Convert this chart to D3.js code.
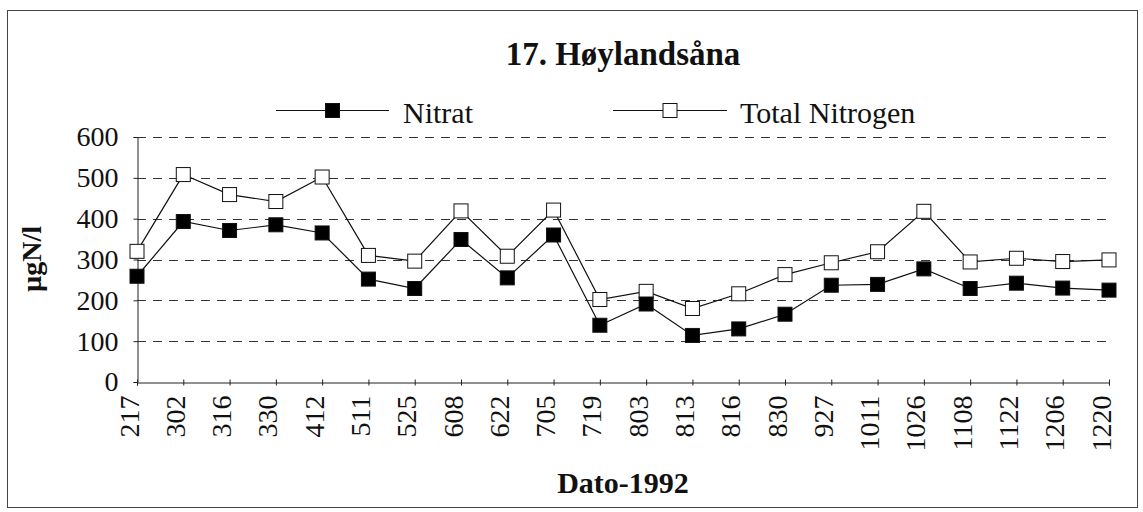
<!DOCTYPE html>
<html>
<head>
<meta charset="utf-8">
<script src="https://cdnjs.cloudflare.com/ajax/libs/d3/7.8.5/d3.min.js"></script>
<style>
	body { margin: 0; background: #fff; }
	svg { display: block; }
</style>
</head>
<body>
<div id="chart"></div>
<script>
var dates = ['217', '302', '316', '330', '412', '511', '525', '608', '622', '705', '719',
	'803', '813', '816', '830', '927', '1011', '1026', '1108', '1122', '1206', '1220'];
var nitrat = [259, 393, 371, 385, 365, 252, 229, 349, 255, 360, 139,
	191, 114, 130, 166, 237, 239, 277, 229, 242, 230, 225];
var totalNitrogen = [320, 508, 459, 442, 502, 310, 296, 419, 308, 421, 202,
	222, 180, 216, 263, 292, 319, 418, 294, 303, 295, 299];
var yTicks = [0, 100, 200, 300, 400, 500, 600];
var seriesNames = ['Nitrat', 'Total Nitrogen'];

var FONT = '"Liberation Serif", "Times New Roman", serif';

var Chart = {

	init: function() {
		var svg = d3.select('#chart')
			.append('svg')
			.attr('width', 1143)
			.attr('height', 512);

		svg.append('rect')
			.attr('x', 7.5)
			.attr('y', 10.5)
			.attr('width', 1130)
			.attr('height', 497)
			.attr('fill', 'none')
			.attr('stroke', '#444')
			.attr('stroke-width', 1);

		var x = d3.scalePoint().domain(dates).range([137, 1109]),
			y = d3.scaleLinear().domain([0, 600]).range([382, 137]);

		Chart.drawGrid(svg, x, y);
		Chart.drawAxes(svg, x, y);
		Chart.drawSeries(svg, x, y, totalNitrogen, 'white');
		Chart.drawSeries(svg, x, y, nitrat, 'black');
		Chart.drawLegend(svg);
		Chart.drawTitles(svg);
	},

	drawGrid: function(svg, x, y) {
		svg.append('g')
			.selectAll('line')
			.data(yTicks.slice(1))
			.enter()
			.append('line')
			.attr('x1', 137)
			.attr('x2', 1109)
			.attr('y1', function(d) { return Math.round(y(d)) + 0.5; })
			.attr('y2', function(d) { return Math.round(y(d)) + 0.5; })
			.attr('stroke', '#333')
			.attr('stroke-width', 1)
			.attr('stroke-dasharray', '9,7');
	},

	drawAxes: function(svg, x, y) {
		var yAxis = svg.append('g')
			.attr('transform', 'translate(137.5,0)')
			.call(d3.axisLeft(y).tickValues(yTicks).tickSize(4).tickPadding(15));
		yAxis.selectAll('text')
			.style('font-family', FONT)
			.style('font-size', '28px')
			.attr('fill', '#111');

		var xAxis = svg.append('g')
			.attr('transform', 'translate(0,382.5)')
			.call(d3.axisBottom(x).tickSize(3));
		xAxis.selectAll('.tick line').attr('y1', -3);
		xAxis.selectAll('text')
			.style('font-family', FONT)
			.style('font-size', '28px')
			.attr('fill', '#111')
			.attr('text-anchor', 'end')
			.attr('transform', 'rotate(-90)')
			.attr('x', -13)
			.attr('y', 1)
			.attr('dy', 0);

		svg.selectAll('.domain').attr('stroke', '#222');
		svg.selectAll('.tick line').attr('stroke', '#222');
	},

	drawSeries: function(svg, x, y, values, fill) {
		var line = d3.line()
			.x(function(d, i) { return x(dates[i]); })
			.y(function(d) { return y(d); });

		svg.append('path')
			.datum(values)
			.attr('d', line)
			.attr('fill', 'none')
			.attr('stroke', '#111')
			.attr('stroke-width', 1.2);

		svg.append('g')
			.selectAll('rect')
			.data(values)
			.enter()
			.append('rect')
			.attr('x', function(d, i) { return x(dates[i]) - 7; })
			.attr('y', function(d) { return y(d) - 7; })
			.attr('width', 14)
			.attr('height', 14)
			.attr('fill', fill)
			.attr('stroke', '#111')
			.attr('stroke-width', 1);
	},

	drawLegend: function(svg) {
		var items = [
			{name: seriesNames[0], fill: 'black', x1: 276, x2: 389, tx: 403},
			{name: seriesNames[1], fill: 'white', x1: 613, x2: 727, tx: 740}
		];

		var g = svg.append('g')
			.selectAll('g')
			.data(items)
			.enter()
			.append('g');

		g.append('line')
			.attr('x1', function(d) { return d.x1; })
			.attr('x2', function(d) { return d.x2; })
			.attr('y1', 110.5)
			.attr('y2', 110.5)
			.attr('stroke', '#111')
			.attr('stroke-width', 1);

		g.append('rect')
			.attr('x', function(d) { return (d.x1 + d.x2) / 2 - 7; })
			.attr('y', 103.5)
			.attr('width', 14)
			.attr('height', 14)
			.attr('fill', function(d) { return d.fill; })
			.attr('stroke', '#111');

		g.append('text')
			.attr('x', function(d) { return d.tx; })
			.attr('y', 123)
			.style('font-family', FONT)
			.style('font-size', '30px')
			.attr('fill', '#111')
			.text(function(d) { return d.name; });
	},

	drawTitles: function(svg) {
		svg.append('text')
			.attr('x', 623)
			.attr('y', 65)
			.attr('text-anchor', 'middle')
			.style('font-family', FONT)
			.style('font-size', '33px')
			.style('font-weight', 'bold')
			.attr('fill', '#111')
			.text('17. Høylandsåna');

		svg.append('text')
			.attr('x', 623)
			.attr('y', 493)
			.attr('text-anchor', 'middle')
			.style('font-family', FONT)
			.style('font-size', '30px')
			.style('font-weight', 'bold')
			.attr('fill', '#111')
			.text('Dato-1992');

		svg.append('text')
			.attr('transform', 'translate(41,259) rotate(-90)')
			.attr('text-anchor', 'middle')
			.style('font-family', FONT)
			.style('font-size', '28px')
			.style('font-weight', 'bold')
			.attr('fill', '#111')
			.text('µgN/l');
	}
};

Chart.init();
</script>
</body>
</html>
